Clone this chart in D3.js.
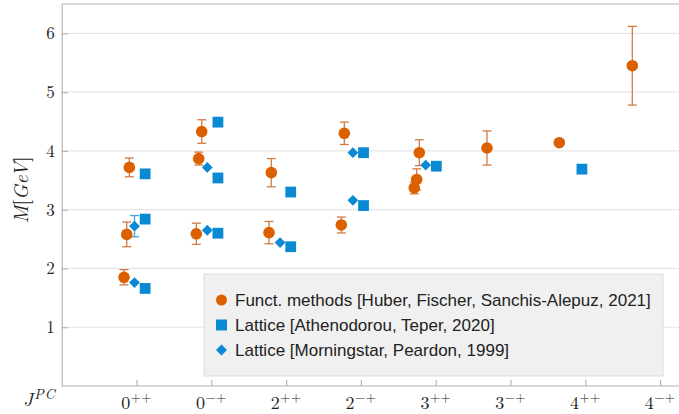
<!DOCTYPE html>
<html>
<head>
<meta charset="utf-8">
<script src="https://cdn.jsdelivr.net/npm/d3@7/dist/d3.min.js"></script>
<style>
  html, body { margin: 0; padding: 0; background: #fff; }
  svg { display: block; }
</style>
</head>
<body>
<svg id="chart" width="679" height="414"></svg>
<script>
// ---------- data ----------
const tickBase = ["J", "0", "0", "2", "2", "3", "3", "4", "4"];
const tickSup  = ["PC", "++", "\u2212+", "++", "\u2212+", "++", "\u2212+", "++", "\u2212+"];
const tickPos  = [0, 1.028, 2.055, 3.083, 4.11, 5.138, 6.165, 7.193, 8.22];
const yTicks   = [1, 2, 3, 4, 5, 6];

// Functional methods [Huber, Fischer, Sanchis-Alepuz, 2021]
const funcX   = [0.929, 0.893, 0.856, 1.923, 1.882, 1.849, 2.879, 2.848, 3.882, 3.841, 4.912, 4.876, 4.843, 5.842, 6.835, 7.838];
const funcM   = [3.72, 2.58, 1.85, 4.33, 3.87, 2.59, 3.63, 2.61, 4.30, 2.74, 3.97, 3.515, 3.37, 4.05, 4.14, 5.45];
const funcErr = [0.16, 0.21, 0.13, 0.20, 0.11, 0.18, 0.24, 0.19, 0.19, 0.135, 0.22, 0.18, 0.10, 0.29, 0, 0.67];

// Lattice [Athenodorou, Teper, 2020]
const atX = [1.146, 1.146, 1.146, 2.146, 2.146, 2.146, 3.146, 3.146, 4.146, 4.146, 5.146, 7.146];
const atM = [3.61, 2.84, 1.66, 4.49, 3.54, 2.60, 3.30, 2.37, 3.97, 3.07, 3.74, 3.69];

// Lattice [Morningstar, Peardon, 1999]
const mpX   = [1, 1, 2, 2, 3, 4, 4, 5];
const mpM   = [2.72, 1.76, 3.72, 2.65, 2.44, 3.97, 3.16, 3.76];
const mpErr = [0.18, 0, 0, 0, 0, 0, 0, 0];

const legendLabels = [
  "Funct. methods [Huber, Fischer, Sanchis-Alepuz, 2021]",
  "Lattice [Athenodorou, Teper, 2020]",
  "Lattice [Morningstar, Peardon, 1999]"
];

// ---------- styles ----------
const ORANGE = "#dc6000";
const ORANGE_ERR = "#d17c45";
const BLUE = "#0a8ad2";
const BLUE_ERR = "#4aa0d8";
const FRAME = "#b4b4b4";
const GRID = "#e6e6e6";
const SERIF = "'Latin Modern Roman','CMU Serif','Liberation Serif','DejaVu Serif',serif";
const SANS = "'Liberation Sans',Arial,'DejaVu Sans',sans-serif";

const svg = d3.select("#chart");
const W = 679, H = 414;
const mLeft = 61.7, mTop = 4, mBottom = 386;

const x = d3.scaleLinear().domain([0, 9]).range([mLeft, mLeft + 9 * 72.8]);
const y = d3.scaleLinear().domain([0, 6.5]).range([mBottom, mTop]);

// gridlines
svg.append("g").selectAll("line").data(yTicks).join("line")
  .attr("x1", mLeft).attr("x2", W)
  .attr("y1", d => y(d)).attr("y2", d => y(d))
  .attr("stroke", GRID).attr("stroke-width", 1.2);

// frame: top line
svg.append("line").attr("x1", mLeft).attr("x2", W).attr("y1", y(6.5)).attr("y2", y(6.5))
  .attr("stroke", FRAME).attr("stroke-width", 1.2);

// y axis
const yAxis = svg.append("g").attr("transform", `translate(${mLeft},0)`)
  .call(d3.axisLeft(y).tickValues(yTicks).tickSizeInner(-6).tickSizeOuter(0).tickPadding(7).tickFormat(d3.format("d")));
yAxis.select(".domain").attr("stroke", FRAME).attr("stroke-width", 1.2);
yAxis.selectAll(".tick line").attr("stroke", FRAME).attr("stroke-width", 1.2);
yAxis.selectAll(".tick text").attr("font-family", SERIF).attr("font-size", 17).attr("fill", "#222");

// x axis
const xAxis = svg.append("g").attr("transform", `translate(0,${mBottom})`)
  .call(d3.axisBottom(x).tickValues(tickPos).tickSizeInner(-6).tickSizeOuter(0).tickFormat(""));
xAxis.select(".domain").attr("stroke", FRAME).attr("stroke-width", 1.2)
  .attr("d", `M${mLeft},0H${W}`);
xAxis.selectAll(".tick line").attr("stroke", FRAME).attr("stroke-width", 1.2);
xAxis.selectAll(".tick").filter((d, i) => i === 0).select("line").remove();

// x tick labels with superscripts (first one, J^PC, is right-aligned left of the axis)
const xl = svg.append("g").selectAll("text").data(tickPos).join("text")
  .attr("x", (d, i) => i === 0 ? x(d) - 6 : x(d)).attr("y", (d, i) => i === 0 ? 406 : 409)
  .attr("text-anchor", (d, i) => i === 0 ? "end" : "middle")
  .attr("font-family", SERIF).attr("fill", "#222");
xl.append("tspan").text((d, i) => tickBase[i])
  .attr("font-size", (d, i) => i === 0 ? 19 : 18)
  .attr("font-style", (d, i) => i === 0 ? "italic" : "normal");
xl.append("tspan").text((d, i) => tickSup[i])
  .attr("font-size", (d, i) => i === 0 ? 14 : 13).attr("dy", -7.5)
  .attr("dx", (d, i) => i === 0 ? 1 : 0.5)
  .attr("letter-spacing", (d, i) => i === 0 ? 1 : 0.5)
  .attr("font-style", (d, i) => i === 0 ? "italic" : "normal");

// y axis label
const yl = svg.append("text")
  .attr("transform", `translate(28,190) rotate(-90)`)
  .attr("text-anchor", "middle")
  .attr("font-family", SERIF).attr("font-size", 20).attr("fill", "#222");
yl.append("tspan").text("M").attr("font-style", "italic");
yl.append("tspan").text("[");
yl.append("tspan").text("GeV").attr("font-style", "italic");
yl.append("tspan").text("]");

// error bars helper
function errorBars(g, xs, ms, es, color) {
  const idx = d3.range(xs.length).filter(i => es[i] > 0);
  const eg = g.append("g").attr("stroke", color).attr("stroke-width", 1.3).attr("fill", "none");
  eg.selectAll("line.v").data(idx).join("line").attr("class", "v")
    .attr("x1", i => x(xs[i])).attr("x2", i => x(xs[i]))
    .attr("y1", i => y(ms[i] - es[i])).attr("y2", i => y(ms[i] + es[i]));
  eg.selectAll("line.t").data(idx).join("line").attr("class", "t")
    .attr("x1", i => x(xs[i]) - 4.5).attr("x2", i => x(xs[i]) + 4.5)
    .attr("y1", i => y(ms[i] + es[i])).attr("y2", i => y(ms[i] + es[i]));
  eg.selectAll("line.b").data(idx).join("line").attr("class", "b")
    .attr("x1", i => x(xs[i]) - 4.5).attr("x2", i => x(xs[i]) + 4.5)
    .attr("y1", i => y(ms[i] - es[i])).attr("y2", i => y(ms[i] - es[i]));
}

const marks = svg.append("g");
errorBars(marks, funcX, funcM, funcErr, ORANGE_ERR);
errorBars(marks, mpX, mpM, mpErr, BLUE_ERR);

// functional methods circles
marks.append("g").selectAll("circle").data(d3.range(funcX.length)).join("circle")
  .attr("cx", i => x(funcX[i])).attr("cy", i => y(funcM[i])).attr("r", 5.8)
  .attr("fill", ORANGE);

// Athenodorou squares
const sq = 10.8;
marks.append("g").selectAll("rect").data(d3.range(atX.length)).join("rect")
  .attr("x", i => x(atX[i]) - sq / 2).attr("y", i => y(atM[i]) - sq / 2)
  .attr("width", sq).attr("height", sq).attr("fill", BLUE);

// Morningstar diamonds
const dm = 5.4;
marks.append("g").selectAll("path").data(d3.range(mpX.length)).join("path")
  .attr("d", i => {
    const cx = x(mpX[i]), cy = y(mpM[i]);
    return `M${cx},${cy - dm}L${cx + dm},${cy}L${cx},${cy + dm}L${cx - dm},${cy}Z`;
  })
  .attr("fill", BLUE);

// legend
const lg = svg.append("g");
lg.append("rect").attr("x", 204).attr("y", 274).attr("width", 459).attr("height", 102)
  .attr("fill", "#f0f0f0").attr("stroke", "#dcdcdc").attr("stroke-width", 1);
const rowsY = [300, 325, 350];
lg.append("circle").attr("cx", 221.5).attr("cy", rowsY[0]).attr("r", 5.5).attr("fill", ORANGE);
lg.append("rect").attr("x", 221.5 - 5.5).attr("y", rowsY[1] - 5.5).attr("width", 11).attr("height", 11).attr("fill", BLUE);
lg.append("path").attr("d", `M221.5,${rowsY[2] - 5.5}L227,${rowsY[2]}L221.5,${rowsY[2] + 5.5}L216,${rowsY[2]}Z`).attr("fill", BLUE);
lg.selectAll("text").data(legendLabels).join("text")
  .attr("x", 235).attr("y", (d, i) => rowsY[i] + 6)
  .attr("font-family", SANS).attr("font-size", 17).attr("fill", "#222")
  .text(d => d);
</script>
</body>
</html>
